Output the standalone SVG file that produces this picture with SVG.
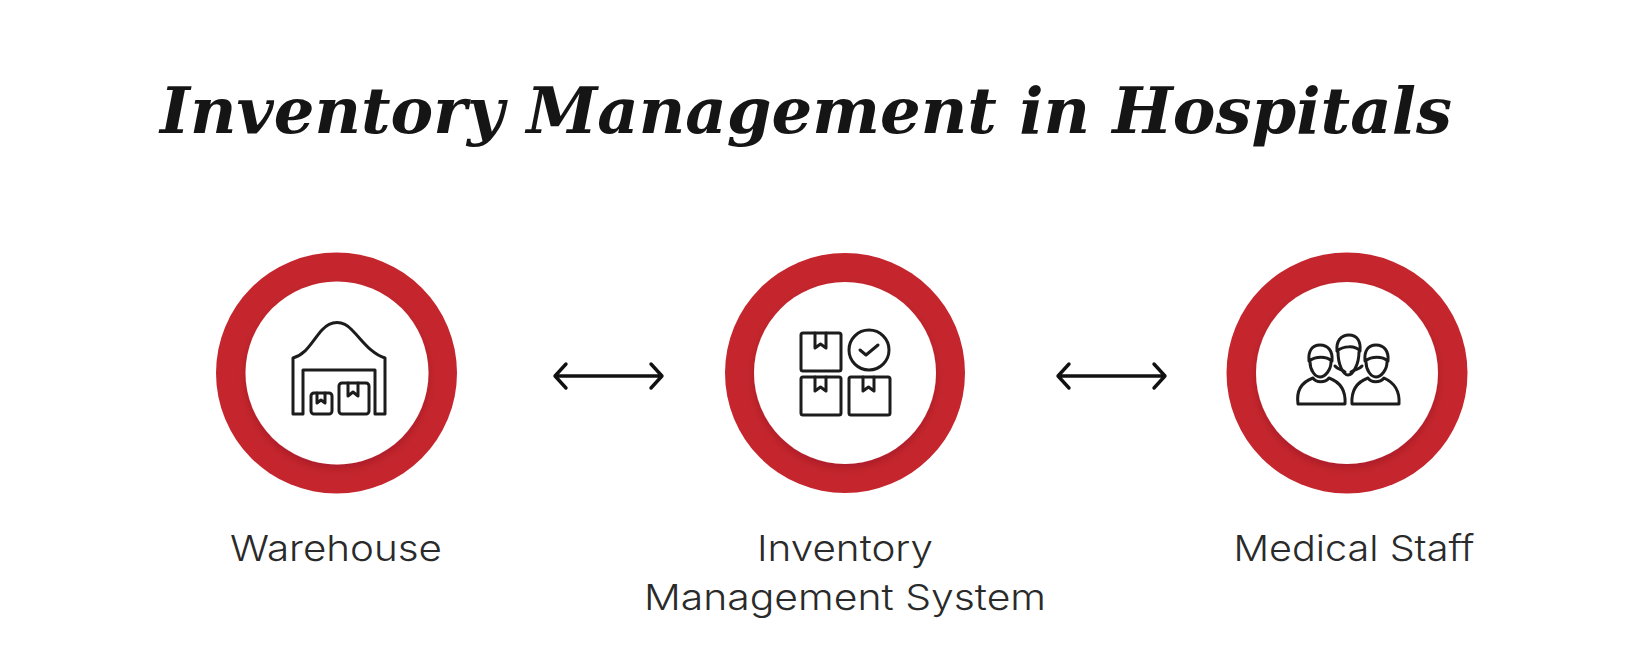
<svg xmlns="http://www.w3.org/2000/svg" width="1640" height="664" viewBox="0 0 1640 664">
<style>
.title{font-family:"DejaVu Serif",serif;font-weight:700;font-style:italic;font-size:64px;fill:#151515}
.label{font-family:Inter,"Liberation Sans",sans-serif;font-size:36px;font-weight:300;fill:#2a2a2a;text-anchor:middle}
.ring{fill:#c5262e}
.hole{fill:#fff;filter:url(#sh)}
.ic{fill:none;stroke:#1c1c1c;stroke-width:3;stroke-linejoin:round;stroke-linecap:round}
.cn{fill:none;stroke:#111;stroke-width:3.400;stroke-linecap:round;stroke-linejoin:round}
</style>
<defs>
<filter id="sh" x="-20%" y="-20%" width="140%" height="140%"><feDropShadow dx="0" dy="4" stdDeviation="4" flood-color="#6a1015" flood-opacity="0.3"/></filter>
</defs>
<rect width="1640" height="664" fill="#fff"/>
<text class="title" x="160" y="133" textLength="1292" lengthAdjust="spacing">Inventory Management in Hospitals</text>
<g id="connectors">
<path class="cn" d="M555 376H662M566 364L555 376L566 388M651 364L662 376L651 388"/>
<path class="cn" d="M1058 376H1165M1069 364L1058 376L1069 388M1154 364L1165 376L1154 388"/>
</g>
<g id="warehouse">
<circle class="ring" cx="336.500" cy="373" r="120.500"/>
<circle class="hole" cx="337" cy="373" r="91.500"/>
<path class="ic" d="M303 414V370H375V414H385V358C371 354 362 340 352 330C343 320 331 320 322 330C312 341 307 354 293 358V414Z"/>
<rect class="ic" x="311" y="393" width="21" height="21" rx="3"/>
<path class="ic" d="M317 393V403L321 400L325 403V393"/>
<rect class="ic" x="339" y="383" width="30" height="31" rx="3"/>
<path class="ic" d="M348 383V396L353 392L358 396V383"/>
<text class="label" x="336" y="561" textLength="212" lengthAdjust="spacingAndGlyphs">Warehouse</text>
</g>
<g id="inventory-management-system">
<circle class="ring" cx="845" cy="373" r="120"/>
<circle class="hole" cx="845" cy="373" r="91"/>
<rect class="ic" x="801" y="333" width="40" height="38" rx="2"/>
<path class="ic" d="M815 333V348L820.500 344L826 348V333"/>
<circle class="ic" cx="869" cy="350" r="20"/>
<path class="ic" d="M860 350L866 355L878 345"/>
<rect class="ic" x="801" y="377" width="40" height="38" rx="2"/>
<path class="ic" d="M815 377V391L820.500 387L826 391V377"/>
<rect class="ic" x="849" y="377" width="41" height="38" rx="2"/>
<path class="ic" d="M863 377V391L868.500 387L874 391V377"/>
<text class="label" x="845" y="561" textLength="176" lengthAdjust="spacingAndGlyphs">Inventory</text>
<text class="label" x="845" y="610" textLength="402" lengthAdjust="spacingAndGlyphs">Management System</text>
</g>
<g id="medical-staff">
<circle class="ring" cx="1347" cy="373" r="120.500"/>
<circle class="hole" cx="1347" cy="373" r="91"/>
<path class="ic" d="M1337 351C1336 341 1341 335 1349 335C1357 335 1361 341 1360 351C1355 345 1343 346 1337 351Z"/>
<path class="ic" d="M1338 352C1338 364 1343 375 1348 375C1353 375 1359 364 1359 352"/>
<path class="ic" d="M1335 366C1338 370 1342 369 1345 372M1362 366C1359 370 1355 369 1351 372"/>
<path class="ic" d="M1309 361C1308 351 1312 345 1320 345C1328 345 1333 351 1332 361C1326 356 1316 356 1309 361Z"/>
<path class="ic" d="M1310 362C1310 370 1315 377 1320 377C1325 377 1331 370 1331 362"/>
<path class="ic" d="M1298 404C1296 390 1302 382 1313 378C1316 383 1325 383 1329 378C1340 382 1346 390 1345 404Z"/>
<path class="ic" d="M1365 361C1364 351 1368 345 1376 345C1384 345 1389 351 1388 361C1382 356 1372 356 1365 361Z"/>
<path class="ic" d="M1366 362C1366 370 1371 377 1376 377C1381 377 1387 370 1387 362"/>
<path class="ic" d="M1352 404C1351 390 1357 382 1368 378C1371 383 1380 383 1384 378C1393 382 1400 390 1399 404Z"/>
<text class="label" x="1354" y="561" textLength="241" lengthAdjust="spacingAndGlyphs">Medical Staff</text>
</g>
</svg>
